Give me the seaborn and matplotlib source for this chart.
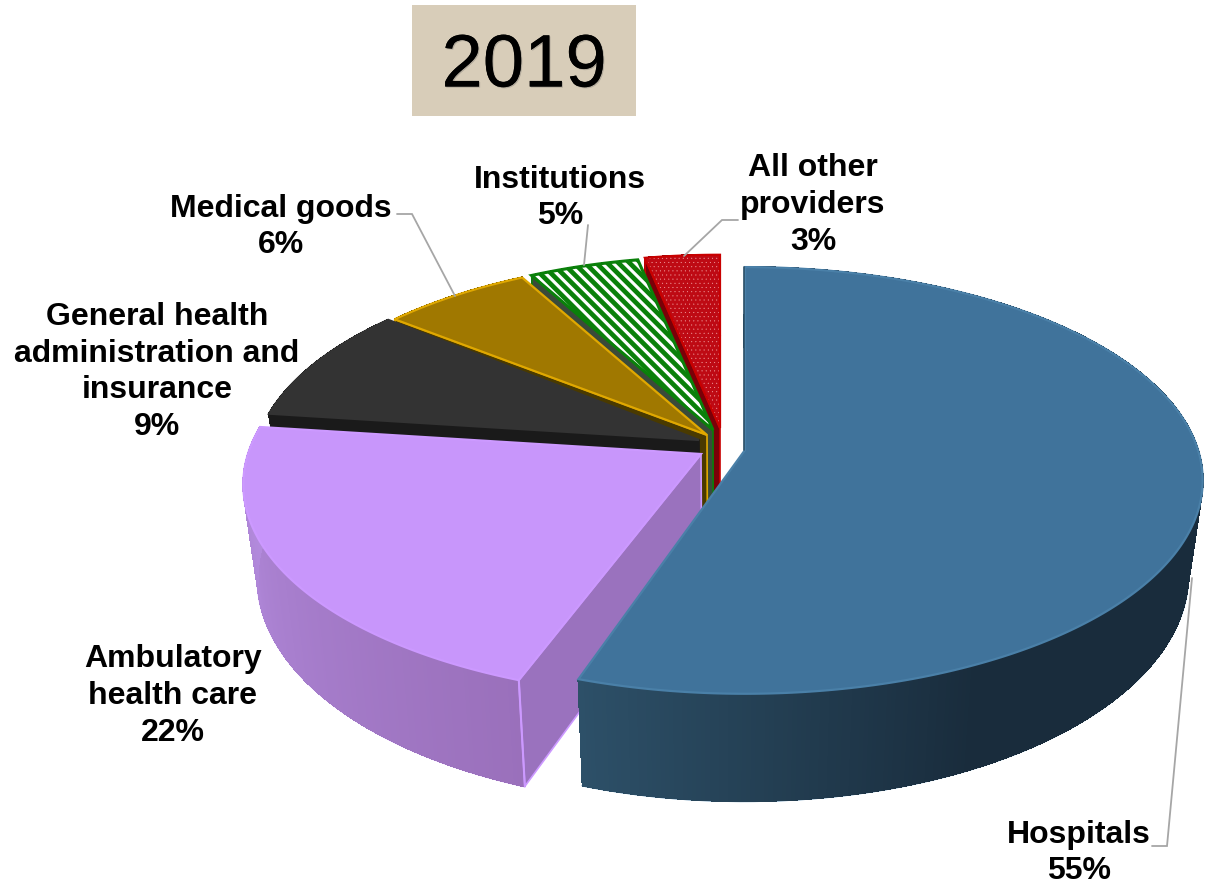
import numpy as np
import matplotlib
matplotlib.use("Agg")
import matplotlib.pyplot as plt
import matplotlib.patheffects as pe
from matplotlib.colors import to_rgb
from matplotlib.patches import Rectangle
import seaborn as sns

# ---- data ----
categories = ["Hospitals", "Ambulatory\nhealth care",
              "General health\nadministration and\ninsurance", "Medical goods",
              "Institutions", "All other\nproviders"]
shares = [55.15, 21.95, 9.0, 6.0, 4.7, 3.2]
title_text = "2019"

# ---- style ----
top_colors = ["#40739B", "#C896FB", "#333333", "#A07800", "#FFFFFF", "#BE0A14"]
edge_colors = ["#4A80A8", "#CC99FF", "#333333", "#E0A800", "#0A800A", "#C80000"]
face_colors = ["#2D5068", "#9A72BE", "#1A1A1A", "#4A3A00", "#3A4A3A", "#7A0008"]
side_colors_a = ["#2D5068", "#9A70BB", "#1A1A1A", "#4A3A00", "#3A4A3A", "#7A0008"]
side_colors_b = ["#192C3C", "#B58DE0", "#1A1A1A", "#4A3A00", "#3A4A3A", "#7A0008"]
apex = [(745, 450), (701, 454), (699, 440), (707, 435), (713, 430), (720, 428)]
radius_scale = [1.0, 1.0, 0.975, 0.96, 0.94, 0.94]
start_nudge = [0, 1.85, 0, -1.2, 0, 0]
R, K, P, D, SHRINK, CX = 453, 209, 0.1426, 92, 0.03, 720

sns.set_theme(style="white")
plt.rcParams["font.family"] = ["Liberation Sans", "DejaVu Sans"]
fig, ax = plt.subplots(figsize=(12.15, 8.86), dpi=100)
fig.subplots_adjust(0, 0, 1, 1)
ax.set_xlim(0, 1215)
ax.set_ylim(886, 0)
ax.set_axis_off()
sns.despine(ax=ax, left=True, bottom=True)


def project(theta, r, centre, depth=0.0):
    """Clockwise angle from 12 o'clock -> picture position."""
    u, v = np.sin(theta) * r, np.cos(theta) * r
    s = 1 / (1 + P * v)
    x = centre[0] + R * u * s
    y = centre[1] - K * v * s + depth * D * s
    x = x - (x - CX) * SHRINK * depth
    return x, y


bounds = np.radians(np.concatenate([[0], np.cumsum(shares)]) * 3.6)
order = [5, 4, 3, 2, 1, 0]
for i in order:
    a0, a1 = bounds[i] + np.radians(start_nudge[i]), bounds[i + 1]
    c, rs = apex[i], radius_scale[i]
    zo = 10 + (5 - i) * 3
    th = np.linspace(a0, a1, max(int(np.degrees(a1 - a0)), 6) * 2)

    # side wall, shaded along the arc
    xt, yt = project(th, rs, c)
    xb, yb = project(th, rs, c, 1)
    ca, cb = np.array(to_rgb(side_colors_a[i])), np.array(to_rgb(side_colors_b[i]))
    ax.plot(xb, yb, color=edge_colors[i], lw=1.6, zorder=zo - 0.5)
    for j in range(len(th) - 1):
        if i == 0:
            f = np.clip((np.degrees(a1) - np.degrees(th[j])) / 45, 0, 1)
        elif i == 1:
            f = (j + 0.5) / (len(th) - 1)
        else:
            f = 0
        col = ca * (1 - f) + cb * f
        ax.fill([xt[j], xt[j + 1], xb[j + 1], xb[j]],
                [yt[j], yt[j + 1], yb[j + 1], yb[j]],
                facecolor=col, edgecolor=col, lw=0.8, antialiased=False, zorder=zo)
    if i == 1:
        ax.plot([xt[0], xb[0]], [yt[0], yb[0]], color=edge_colors[i], lw=1.5, zorder=zo + 1.5)

    # cut face at the start of the slice (hospital's is turned away)
    if i != 0:
        ax0, ay0 = project(np.array([a0]), rs, c)
        bx0, by0 = project(np.array([a0]), rs, c, 1)
        cxb, cyb = project(np.array([a0]), 0, c, 1)
        ax.fill([c[0], ax0[0], bx0[0], cxb[0]], [c[1], ay0[0], by0[0], cyb[0]],
                facecolor=face_colors[i], edgecolor=edge_colors[i] if i in (1, 3, 4, 5) else face_colors[i],
                lw=1.2, zorder=zo + 1)

    # top surface
    xa, ya = project(th, rs, c)
    px = np.concatenate([[c[0]], xa])
    py = np.concatenate([[c[1]], ya])
    if i == 4:
        plt.rcParams["hatch.linewidth"] = 3.4
        ax.fill(px, py, facecolor="white", edgecolor=edge_colors[i], hatch="\\\\\\", lw=2.2, zorder=zo + 2)
    elif i == 5:
        plt.rcParams["hatch.linewidth"] = 0.2
        ax.fill(px, py, facecolor=top_colors[i], edgecolor="#F0A0A0", hatch="....", lw=0, zorder=zo + 2)
        ax.fill(px, py, facecolor="none", edgecolor=edge_colors[i], lw=1.6, zorder=zo + 2.5)
    else:
        ax.fill(px, py, facecolor=top_colors[i], edgecolor=edge_colors[i], lw=1.6, zorder=zo + 2)
    if i == 0:
        ax.plot([c[0] - 0.6, xa[0] - 0.6], [c[1], ya[0]], color=side_colors_a[0], lw=1.2, zorder=zo + 3)

# title box
ax.add_patch(Rectangle((412, 5), 224, 111, facecolor="#D8CDB9", edgecolor="none", zorder=1))
ax.text(524, 67, title_text, ha="center", va="center", fontsize=53.5, color="black", zorder=2,
        path_effects=[pe.withSimplePatchShadow(offset=(0.8, -0.8), alpha=0.3, shadow_rgbFace="#555555"), pe.Normal()])

# leader lines
leader = dict(color="#A6A6A6", lw=1.3, zorder=40, solid_joinstyle="miter")
ax.plot([1152, 1167, 1192], [846, 846, 578], **leader)
ax.plot([397, 412, 455], [214, 214, 296], **leader)
ax.plot([588, 584], [225, 265], **leader)
ax.plot([684, 722, 738], [256, 220, 220], **leader)

# labels
label_pos = [(1079, 853), (173, 696), (157, 372), (281, 227), (560, 198), (813, 205)]
for name, val, (lx, ly) in zip(categories, shares, label_pos):
    ax.text(lx, ly, f"{name}\n{round(val)}%", ha="center", va="center", multialignment="center",
            fontsize=23, fontweight="bold", color="black", linespacing=1.3, zorder=50)

fig.savefig("out.png", dpi=100)
